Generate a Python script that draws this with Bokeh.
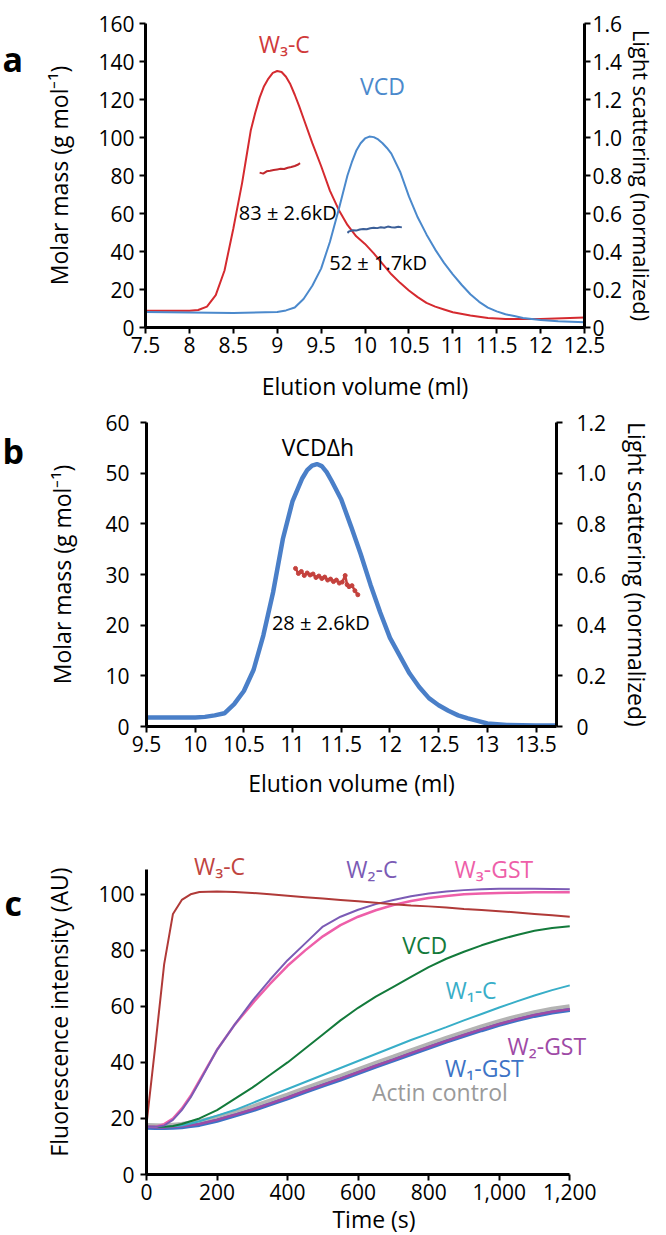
from bokeh.plotting import figure
from bokeh.models import Range1d, LinearAxis, FixedTicker, CustomJSTickFormatter, NumeralTickFormatter, Label
from bokeh.layouts import column, row
from bokeh.core.properties import value
from bokeh.embed import file_html
from bokeh.resources import INLINE

FONT = "Open Sans"

# ---------------- Panel a data ----------------
a_w3c_x = [7.5, 8.0, 8.1, 8.2, 8.3, 8.4, 8.5, 8.55, 8.6, 8.65, 8.7, 8.75, 8.8, 8.85, 8.9, 8.95, 9.0, 9.05,
           9.1, 9.15, 9.2, 9.25, 9.3, 9.4, 9.5, 9.6, 9.7, 9.8, 9.9, 10.0, 10.1, 10.2, 10.3, 10.4, 10.5,
           10.6, 10.7, 10.8, 10.9, 11.0, 11.2, 11.4, 11.6, 12.0, 12.5]
a_w3c_y = [8.8, 8.8, 9.2, 11, 17, 30, 52, 64, 76, 90, 104, 113, 121, 127, 131, 134, 135, 134.5,
           132, 128, 122.5, 116.5, 110, 97, 85, 72, 62, 54, 48, 44, 39, 33.5, 28, 23.5, 19.5,
           16, 13, 11, 9.5, 8, 6.3, 5, 4.5, 4.5, 5.3]
a_vcd_x = [7.5, 8.0, 8.5, 9.0, 9.1, 9.2, 9.3, 9.4, 9.5, 9.6, 9.7, 9.8, 9.85, 9.9, 9.95, 10.0, 10.05, 10.1,
           10.15, 10.2, 10.25, 10.3, 10.4, 10.5, 10.6, 10.7, 10.8, 10.9, 11.0, 11.1, 11.2, 11.3, 11.4,
           11.5, 11.6, 11.7, 11.8, 12.0, 12.2, 12.5]
a_vcd_y = [8.2, 7.9, 7.6, 8.2, 9, 10.5, 15, 22, 31, 45, 62, 80, 87, 93, 97, 99.5, 100.5, 100.2,
           99, 97, 94.5, 91.5, 82, 69, 58, 49, 41, 34, 28, 22.5, 17.5, 13.5, 10.5,
           8.5, 7, 6, 5, 4, 3.3, 2.8]
a_mm_w3c_x = [8.80, 8.84, 8.88, 8.92, 8.96, 9.00, 9.04, 9.08, 9.12, 9.16, 9.20, 9.24, 9.26]
a_mm_w3c_y = [81.5, 81.0, 82.2, 82.5, 82.9, 83.2, 83.5, 83.4, 84.1, 84.5, 85.0, 85.8, 86.5]
a_mm_vcd_x = [9.80, 9.82, 9.86, 9.90, 9.94, 9.98, 10.02, 10.06, 10.10, 10.14, 10.18, 10.22, 10.26, 10.30, 10.34, 10.38, 10.42]
a_mm_vcd_y = [49.8, 50.6, 51.2, 51.0, 51.6, 51.9, 51.7, 52.2, 52.5, 52.3, 52.8, 52.5, 53.1, 52.8, 52.6, 53.0, 52.7]
a_x_ticks = [7.5, 8, 8.5, 9, 9.5, 10, 10.5, 11, 11.5, 12, 12.5]
a_y_ticks = [0, 20, 40, 60, 80, 100, 120, 140, 160]
a_ls_ticks = [0, 0.2, 0.4, 0.6, 0.8, 1.0, 1.2, 1.4, 1.6]

# ---------------- Panel b data ----------------
b_x = [9.5, 10.0, 10.1, 10.2, 10.3, 10.4, 10.5, 10.6, 10.7, 10.8, 10.9, 11.0, 11.1, 11.15, 11.2, 11.25, 11.3,
       11.35, 11.4, 11.5, 11.6, 11.7, 11.8, 11.9, 12.0, 12.1, 12.2, 12.3, 12.4, 12.5, 12.6, 12.7, 12.8,
       12.9, 13.0, 13.2, 13.5, 13.7]
b_y = [1.8, 1.8, 1.9, 2.2, 2.6, 4.4, 7.0, 11.2, 18, 26.5, 37, 44.5, 49, 50.6, 51.5, 51.8, 51.4,
       50.2, 48.5, 44.8, 39.5, 34, 28, 22.5, 17.5, 14, 10.5, 7.8, 5.6, 4.2, 3.1, 2.2, 1.6,
       1.1, 0.6, 0.3, 0.2, 0.2]
b_mm_x = [11.03, 11.06, 11.09, 11.12, 11.15, 11.18, 11.21, 11.24, 11.27, 11.30, 11.33, 11.36,
          11.39, 11.42, 11.45, 11.48, 11.51, 11.54, 11.56, 11.58, 11.61, 11.64, 11.67]
b_mm_y = [31.2, 30.2, 30.6, 29.8, 30.3, 29.9, 30.1, 29.4, 29.7, 29.2, 29.5, 28.9,
          29.1, 28.6, 28.9, 28.3, 28.5, 29.8, 28.0, 27.6, 27.8, 26.8, 26.0]
b_x_ticks = [9.5, 10, 10.5, 11, 11.5, 12, 12.5, 13, 13.5]
b_y_ticks = [0, 10, 20, 30, 40, 50, 60]
b_ls_ticks = [0, 0.2, 0.4, 0.6, 0.8, 1.0, 1.2]

# ---------------- Panel c data ----------------
c_t = [0, 25, 50, 75, 100, 125, 150, 200, 250, 300, 350, 400, 450, 500, 550, 600, 650, 700,
       750, 800, 850, 900, 950, 1000, 1050, 1100, 1150, 1200]
c_w3c = [18, 46, 75, 93, 98, 100, 100.8, 101, 100.8, 100.5, 100, 99.5, 99, 98.5, 98, 97.5, 97, 96.5,
         96, 95.7, 95.3, 94.8, 94.4, 94, 93.5, 93, 92.5, 92]
c_w2c = [17, 17, 17.5, 19.5, 23, 27.5, 33, 44.5, 53.5, 62, 69.5, 76.5, 82.5, 88.5, 92, 94.5, 96.5, 98,
         99.3, 100.3, 101, 101.5, 101.8, 102, 102, 102, 101.9, 101.8]
c_w3gst = [17, 17, 18, 20, 23.5, 28, 33.5, 44.5, 53.5, 61, 68, 74.5, 80, 85, 89, 92, 94.3, 96.2,
           97.6, 98.7, 99.4, 100, 100.3, 100.5, 100.6, 100.7, 100.7, 100.7]
c_vcd = [17, 17, 17, 17.3, 18, 19, 20, 23, 27, 31, 35.5, 40, 45, 50, 55, 59.5, 63.5, 67,
         70.5, 74, 77, 79.5, 81.8, 83.8, 85.5, 87, 88, 88.6]
c_w1c = [17, 17, 17, 17.2, 17.5, 18.2, 19, 21, 23, 25.5, 28, 30.5, 33, 35.5, 38, 40.5, 43, 45.5,
         48, 50.3, 52.6, 55, 57.3, 59.6, 61.8, 63.9, 65.8, 67.5]
c_actin = [17.3, 17.2, 17.1, 17.4, 17.7, 18.2, 18.7, 20.2, 22.0, 23.9, 26.0, 28.2, 30.5, 32.7, 34.9, 37.2, 39.5, 41.7,
           44.0, 46.2, 48.4, 50.5, 52.5, 54.4, 56.1, 57.6, 58.8, 59.7]
c_w2gst = [17.0, 16.9, 16.8, 17.0, 17.2, 17.6, 18.0, 19.5, 21.3, 23.2, 25.3, 27.5, 29.8, 32.0, 34.2, 36.5, 38.8, 41.0,
           43.3, 45.5, 47.7, 49.8, 51.8, 53.7, 55.4, 56.9, 58.1, 59.0]
c_w1gst = [16.7, 16.6, 16.6, 16.7, 16.9, 17.3, 17.7, 19.2, 21.0, 22.9, 25.0, 27.2, 29.5, 31.7, 33.9, 36.2, 38.5, 40.7,
           43.0, 45.2, 47.4, 49.5, 51.5, 53.4, 55.1, 56.6, 57.8, 58.7]
c_x_ticks = [0, 200, 400, 600, 800, 1000, 1200]
c_y_ticks = [0, 20, 40, 60, 80, 100]

panel_letters = ["a", "b", "c"]

plain_fmt = CustomJSTickFormatter(code="return tick.toString();")
ls_fmt_code = "return tick == 0 ? '0' : tick.toFixed(1);"


def style_axis(ax, ticks, label=None, fmt=None, lab_stand=3, title_stand=6):
    ax.ticker = FixedTicker(ticks=ticks)
    if fmt is not None:
        ax.formatter = fmt
    ax.axis_line_width = 3
    ax.axis_line_color = "black"
    ax.major_tick_line_width = 2
    ax.major_tick_line_color = "black"
    ax.major_tick_out = 6
    ax.major_tick_in = 0
    ax.minor_tick_line_color = None
    ax.major_label_text_font = FONT
    ax.major_label_text_font_size = "21px"
    ax.major_label_text_color = "black"
    ax.major_label_standoff = lab_stand
    if label is not None:
        ax.axis_label = label
    ax.axis_label_text_font = FONT
    ax.axis_label_text_font_size = "23px"
    ax.axis_label_text_font_style = "normal"
    ax.axis_label_text_color = "black"
    ax.axis_label_standoff = title_stand


def base_fig(xr, yr, fw, fh, bl, br, bt, bb):
    p = figure(frame_width=fw, frame_height=fh, x_range=xr, y_range=yr,
               min_border_left=bl, min_border_right=br, min_border_top=bt, min_border_bottom=bb,
               output_backend="svg", toolbar_location=None)
    p.grid.visible = False
    p.outline_line_color = None
    p.background_fill_color = "white"
    p.border_fill_color = "white"
    return p


def letter_fig(letter, x, baseline_from_top, h):
    f = figure(frame_width=40, frame_height=h, x_range=Range1d(0, 40), y_range=Range1d(h, 0),
               min_border_left=0, min_border_right=0, min_border_top=0, min_border_bottom=0,
               x_axis_location=None, y_axis_location=None,
               output_backend="svg", toolbar_location=None)
    f.grid.visible = False
    f.outline_line_color = None
    f.border_fill_color = "white"
    f.text(x=[x], y=[baseline_from_top], text=[letter], text_font=value(FONT),
           text_font_style=value("bold"), text_font_size=value("34px"), text_color="black",
           text_align=value("left"), text_baseline=value("alphabetic"))
    return f


def add_label(p, x, y, text, color, size="23px"):
    p.add_layout(Label(x=x, y=y, text=text, text_color=color, text_font=FONT, text_font_size=size,
                       text_align="center", text_baseline="middle"))


# ---------------- Panel a ----------------
pa = base_fig(Range1d(7.5, 12.5), Range1d(0, 160), 439, 304, 100, 71, 23, 73)
style_axis(pa.xaxis[0], a_x_ticks, "Elution volume (ml)", plain_fmt, 3, 14)
style_axis(pa.yaxis[0], a_y_ticks, "Molar mass (g mol⁻¹)", None, 5, 20)
pa.extra_y_ranges = {"ls": Range1d(0, 1.6)}
ra = LinearAxis(y_range_name="ls")
style_axis(ra, a_ls_ticks, "Light scattering (normalized)", CustomJSTickFormatter(code=ls_fmt_code), 2, 2)
ra.axis_label_text_font_size = "22px"
pa.add_layout(ra, "right")

pa.line(a_w3c_x, a_w3c_y, line_color="#d52a2f", line_width=2)
pa.line(a_vcd_x, a_vcd_y, line_color="#4b89cc", line_width=2)
pa.line(a_mm_w3c_x, a_mm_w3c_y, line_color="#c0282d", line_width=2)
pa.line(a_mm_vcd_x, a_mm_vcd_y, line_color="#3b5f98", line_width=2)
add_label(pa, 9.08, 149, "W₃-C", "#d03a3a")
add_label(pa, 10.2, 127, "VCD", "#4b89cc")
add_label(pa, 9.12, 60.5, "83 ± 2.6kD", "black", size="20px")
add_label(pa, 10.15, 34, "52 ± 1.7kD", "black", size="20px")

# ---------------- Panel b ----------------
pb = base_fig(Range1d(9.5, 13.71), Range1d(0, 60), 410, 304, 106, 94, 18, 93)
style_axis(pb.xaxis[0], b_x_ticks, "Elution volume (ml)", plain_fmt, 3, 12)
style_axis(pb.yaxis[0], b_y_ticks, "Molar mass (g mol⁻¹)", None, 11, 24)
pb.extra_y_ranges = {"ls": Range1d(0, 1.2)}
rb = LinearAxis(y_range_name="ls")
style_axis(rb, b_ls_ticks, "Light scattering (normalized)", CustomJSTickFormatter(code=ls_fmt_code), 14, 12)
pb.add_layout(rb, "right")

pb.line(b_x, b_y, line_color="#4a7fc8", line_width=4.5)
pb.line(b_mm_x, b_mm_y, line_color="#c4413d", line_width=2.5)
pb.scatter(b_mm_x, b_mm_y, size=4, color="#c4413d")
add_label(pb, 11.26, 55.2, "VCDΔh", "black")
add_label(pb, 11.29, 20.5, "28 ± 2.6kD", "black", size="20px")

# ---------------- Panel c ----------------
pc = base_fig(Range1d(0, 1290), Range1d(0, 116), 455, 325, 99, 56, 30, 45)
style_axis(pc.xaxis[0], c_x_ticks, "Time (s)", NumeralTickFormatter(format="0,0"), 3, 0)
style_axis(pc.yaxis[0], c_y_ticks, "Fluorescence intensity (AU)", None, 6, 20)
pc.xaxis[0].bounds = (0, 1200)
pc.yaxis[0].bounds = (0, 109)

pc.line(c_t, c_actin, line_color="#b3b3b3", line_width=6)
pc.line(c_t, c_w1gst, line_color="#3d73c6", line_width=4)
pc.line(c_t, c_w2gst, line_color="#9e4aa6", line_width=2.5)
pc.line(c_t, c_w1c, line_color="#38aec8", line_width=2)
pc.line(c_t, c_vcd, line_color="#137a3b", line_width=2)
pc.line(c_t, c_w3gst, line_color="#ee5fa9", line_width=2.5)
pc.line(c_t, c_w2c, line_color="#7b5bb5", line_width=2)
pc.line(c_t, c_w3c, line_color="#b03a38", line_width=2)

add_label(pc, 207, 110, "W₃-C", "#c0443f")
add_label(pc, 639, 109, "W₂-C", "#7b5bb5")
add_label(pc, 985, 109, "W₃-GST", "#ee5fa9")
add_label(pc, 789, 81.8, "VCD", "#137a3b")
add_label(pc, 920, 66, "W₁-C", "#38aec8")
add_label(pc, 1135, 46, "W₂-GST", "#9e4aa6")
add_label(pc, 958, 38, "W₁-GST", "#3d73c6")
add_label(pc, 832, 29.6, "Actin control", "#9a9a9a")

la = letter_fig(panel_letters[0], 2, 35, 400)
lb = letter_fig(panel_letters[1], 2, 28, 410)
lc = letter_fig(panel_letters[2], 4, 53, 400)

layout = column(row(la, pa), row(lb, pb), row(lc, pc))
open("out.html", "w").write(file_html(layout, INLINE))
